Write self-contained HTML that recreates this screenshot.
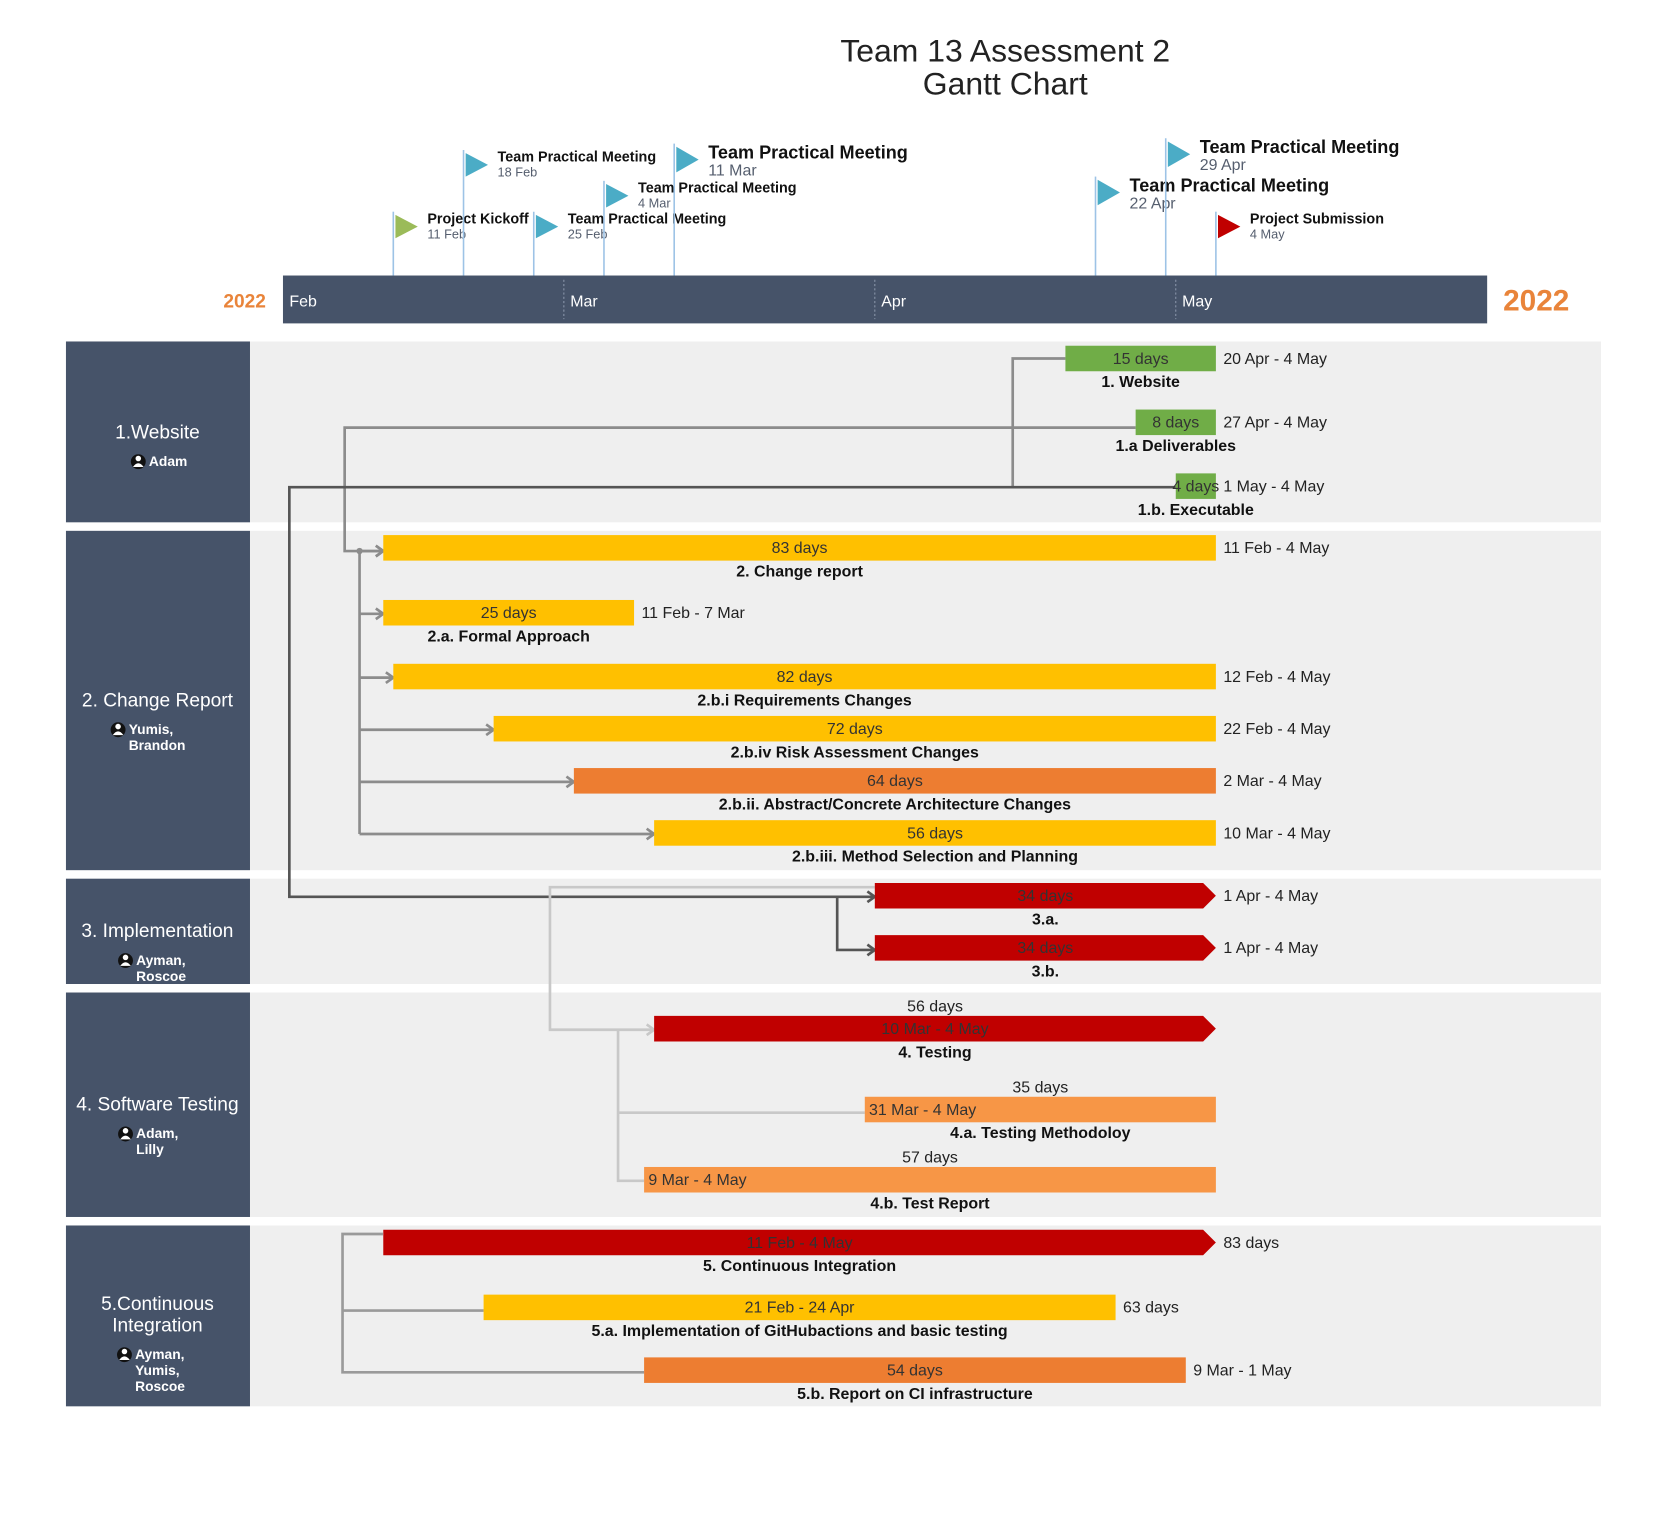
<!DOCTYPE html>
<html><head><meta charset="utf-8"><style>
html,body{margin:0;padding:0;background:#fff;width:1668px;height:1526px;overflow:hidden}
svg{display:block}
text{font-family:"Liberation Sans",sans-serif}
</style></head><body>
<svg id="chart" width="1668" height="1526" viewBox="0 0 1568 1434.5" preserveAspectRatio="none" xmlns="http://www.w3.org/2000/svg">
<text x="945" y="58" text-anchor="middle" font-size="30" fill="#222">Team 13 Assessment 2</text>
<text x="945" y="89" text-anchor="middle" font-size="30" fill="#222">Gantt Chart</text>
<g id="bands"></g>
<g id="axis"></g>
<g id="milestones"></g>
<g id="connectors" fill="none"></g>
<g id="tasks"></g>
</svg>
<script>
// ---- data ----
const months = ["Feb","Mar","Apr","May"];
const monthStarts = ["2022-02-01","2022-03-01","2022-04-01","2022-05-01"];
const yearLabel = "2022";
const sectionNames = ["1.Website","2. Change Report","3. Implementation","4. Software Testing","5.Continuous Integration"];
const sectionOwners = [["Adam"],["Yumis,","Brandon"],["Ayman,","Roscoe"],["Adam,","Lilly"],["Ayman,","Yumis,","Roscoe"]];
const milestoneNames = ["Project Kickoff","Team Practical Meeting","Team Practical Meeting","Team Practical Meeting","Team Practical Meeting","Team Practical Meeting","Team Practical Meeting","Project Submission"];
const milestoneDates = ["2022-02-11","2022-02-18","2022-02-25","2022-03-04","2022-03-11","2022-04-22","2022-04-29","2022-05-04"];
const milestoneDateLabels = ["11 Feb","18 Feb","25 Feb","4 Mar","11 Mar","22 Apr","29 Apr","4 May"];
const taskNames = ["1. Website","1.a Deliverables","1.b. Executable","2. Change report","2.a. Formal Approach","2.b.i Requirements Changes","2.b.iv Risk Assessment Changes","2.b.ii. Abstract/Concrete Architecture Changes","2.b.iii. Method Selection and Planning","3.a.","3.b.","4. Testing","4.a. Testing Methodoloy","4.b. Test Report","5. Continuous Integration","5.a. Implementation of GitHubactions and basic testing","5.b. Report on CI infrastructure"];
const taskStarts = ["2022-04-20","2022-04-27","2022-05-01","2022-02-11","2022-02-11","2022-02-12","2022-02-22","2022-03-02","2022-03-10","2022-04-01","2022-04-01","2022-03-10","2022-03-31","2022-03-09","2022-02-11","2022-02-21","2022-03-09"];
const taskEnds = ["2022-05-04","2022-05-04","2022-05-04","2022-05-04","2022-03-07","2022-05-04","2022-05-04","2022-05-04","2022-05-04","2022-05-04","2022-05-04","2022-05-04","2022-05-04","2022-05-04","2022-05-04","2022-04-24","2022-05-01"];
const taskDurations = ["15 days","8 days","4 days","83 days","25 days","82 days","72 days","64 days","56 days","34 days","34 days","56 days","35 days","57 days","83 days","63 days","54 days"];
const taskDateLabels = ["20 Apr - 4 May","27 Apr - 4 May","1 May - 4 May","11 Feb - 4 May","11 Feb - 7 Mar","12 Feb - 4 May","22 Feb - 4 May","2 Mar - 4 May","10 Mar - 4 May","1 Apr - 4 May","1 Apr - 4 May","10 Mar - 4 May","31 Mar - 4 May","9 Mar - 4 May","11 Feb - 4 May","21 Feb - 24 Apr","9 Mar - 1 May"];

// ---- layout/style (not data) ----
const NS="http://www.w3.org/2000/svg";
const X0=266, PXD=9.43;
const dayIdx=s=>{const p=s.split("-").map(Number);return (Date.UTC(p[0],p[1]-1,p[2])-Date.UTC(2022,1,1))/864e5;};
const xs=s=>X0+dayIdx(s)*PXD;
const xe=s=>X0+(dayIdx(s)+1)*PXD;
const sectionTop=[321,499,826,933,1152], sectionBot=[491,818,925,1144,1322];
const taskRowY=[337,397,457,515,576,636,685,734,783,842,891,967,1043,1109,1168,1229,1288];
const taskColor=["#70AD47","#70AD47","#70AD47","#FFC000","#FFC000","#FFC000","#FFC000","#ED7D31","#FFC000","#C00000","#C00000","#C00000","#F79646","#F79646","#C00000","#FFC000","#ED7D31"];
const taskLayout=["in","in","in","in","in","in","in","in","in","in","in","aboveC","aboveL","aboveL","ci","ci","in"];
const taskArrow=[0,0,0,0,0,0,0,0,0,1,1,1,0,0,1,0,0];
const msTop=[199,141,199,170,135,166,130,199];
const msBig=[0,0,0,0,1,1,1,0];
const msColor=["#9BBB59","#4BACC6","#4BACC6","#4BACC6","#4BACC6","#4BACC6","#4BACC6","#C00000"];

function el(tag,attrs,parent,txt){const e=document.createElementNS(NS,tag);for(const k in attrs)e.setAttribute(k,attrs[k]);if(txt!==undefined)e.textContent=txt;parent.appendChild(e);return e;}

// bands
const bands=document.getElementById("bands");
sectionNames.forEach((n,i)=>{
  const t=sectionTop[i],b=sectionBot[i];
  const g=el("g",{},bands);
  
  
  el("rect",{x:235,y:t,width:1270,height:b-t,fill:"#efefef"},g);
  el("rect",{x:62,y:t,width:173,height:b-t,fill:"#465369"},g);
  const lines=n==="5.Continuous Integration"?["5.Continuous","Integration"]:[n];
  const own=sectionOwners[i];
  const tot=lines.length*21+own.length*15+6;
  let y=(t+b)/2-tot/2+16+4+7*own.length;
  lines.forEach(l=>{const tx=el("text",{x:148,y:y,"text-anchor":"middle","font-size":18,fill:"#fff"},g,l);
    
    y+=20;});
  y+=6;
  const ix= own.length===1?130:(i===4?117:(i===1?111:118));
  el("circle",{cx:ix,cy:y-4,r:7,fill:"#111"},g);
  el("circle",{cx:ix,cy:y-7,r:2.6,fill:"#fff"},g);
  el("path",{d:`M${ix-5},${y+1} Q${ix},${y-6} ${ix+5},${y+1} Z`,fill:"#fff"},g);
  own.forEach((o,k)=>{const tx=el("text",{x:ix+10,y:y+k*15,"font-size":13,"font-weight":"bold",fill:"#fff"},g,o);
    
    });
});

// axis
const ax=document.getElementById("axis");
el("rect",{x:266,y:259,width:1132,height:45,fill:"#465369"},ax);
months.forEach((m,i)=>{
  const x=xs(monthStarts[i]);
  if(i>0) el("line",{x1:x,y1:263,x2:x,y2:300,stroke:"#8a96aa","stroke-dasharray":"2,2"},ax);
  const t=el("text",{x:x+6,y:288,"font-size":15,fill:"#fff"},ax,m);
  
  
});
const yl=el("text",{x:250,y:289,"text-anchor":"end","font-size":18,"font-weight":"bold",fill:"#E9843A"},ax,yearLabel);


const yr=el("text",{x:1413,y:292,"font-size":28,"font-weight":"bold",fill:"#E9843A"},ax,yearLabel);



// milestones
const ms=document.getElementById("milestones");
milestoneNames.forEach((n,i)=>{
  const x=xe(milestoneDates[i]), t=msTop[i], big=msBig[i];
  const g=el("g",{},ms);
  
  
  el("line",{x1:x,y1:t,x2:x,y2:259,stroke:"#9DC3E6","stroke-width":1.5},g);
  const fh=big?24:22;
  el("polygon",{points:`${x+2},${t+3} ${x+23},${t+3+fh/2} ${x+2},${t+3+fh}`,fill:msColor[i]},g);
  el("text",{x:x+32,y:t+(big?14:11),"font-size":big?17:13.5,"font-weight":"bold",fill:"#111"},g,n);
  el("text",{x:x+32,y:t+(big?30:25),"font-size":big?15:12,fill:"#555e6e"},g,milestoneDateLabels[i]);
});

// connectors (routing between linked tasks)
const cn=document.getElementById("connectors");
function pl(pts,col,w,arrow){const p=el("polyline",{points:pts.map(a=>a.join(",")).join(" "),stroke:col,"stroke-width":w,fill:"none"},cn);
  
  
  if(arrow){const [ex,ey]=pts[pts.length-1];el("polyline",{points:`${ex-7},${ey-5} ${ex},${ey} ${ex-7},${ey+5}`,stroke:col,"stroke-width":w,fill:"none"},cn);}}
const bx=i=>xs(taskStarts[i]), bxe=i=>xe(taskEnds[i]);
const Y=taskRowY;
pl([[bx(0),Y[0]],[952,Y[0]],[952,Y[2]]],"#8c8c8c",2.5);
pl([[bx(1),Y[1]+5],[324,Y[1]+5],[324,Y[3]+3],[bx(3),Y[3]+3]],"#8c8c8c",2.5,1);
pl([[bx(2),Y[2]+1],[272,Y[2]+1],[272,Y[9]+1],[bx(9),Y[9]+1]],"#555",2.5,1);
pl([[787,Y[9]+1],[787,Y[10]+2],[bx(10),Y[10]+2]],"#555",2.5,1);
[3,4,5,6,7,8].forEach(i=>{const yy=i===3?Y[3]+3:Y[i]+1;pl([[338,yy],[bx(i),yy]],"#8c8c8c",2.5,1);});
pl([[338,Y[3]+3],[338,Y[8]+1]],"#8c8c8c",2.5);
el("circle",{cx:338,cy:Y[3]+3,r:3,fill:"#8c8c8c"},cn);
pl([[bx(9),Y[9]-8],[517,Y[9]-8],[517,Y[11]+1],[bx(11),Y[11]+1]],"#c8c8c8",2.5,1);
pl([[581,Y[11]+1],[581,Y[13]+1],[bx(13),Y[13]+1]],"#c8c8c8",2.5);
pl([[581,Y[12]+3],[bx(12),Y[12]+3]],"#c8c8c8",2.5);
pl([[360,Y[14]-8],[322,Y[14]-8],[322,Y[16]+2],[bx(16),Y[16]+2]],"#9a9a9a",2.5);
pl([[322,Y[15]+3],[bx(15),Y[15]+3]],"#9a9a9a",2.5);

// tasks
const tk=document.getElementById("tasks");
taskNames.forEach((n,i)=>{
  const x1=bx(i), x2=bxe(i), y=taskRowY[i], h=24, cx=(x1+x2)/2;
  const g=el("g",{},tk);
  
  
  if(taskArrow[i]) el("polygon",{points:`${x1},${y-h/2} ${x2-12},${y-h/2} ${x2},${y} ${x2-12},${y+h/2} ${x1},${y+h/2}`,fill:taskColor[i]},g);
  else el("rect",{x:x1,y:y-h/2,width:x2-x1,height:h,fill:taskColor[i]},g);
  const L=taskLayout[i];
  if(L==="in"){
    el("text",{x:cx,y:y+5,"text-anchor":"middle","font-size":15,fill:"#333"},g,taskDurations[i]);
    el("text",{x:x2+7,y:y+5,"font-size":15,fill:"#222"},g,taskDateLabels[i]);
  }else if(L==="ci"){
    el("text",{x:cx,y:y+5,"text-anchor":"middle","font-size":15,fill:"#333"},g,taskDateLabels[i]);
    el("text",{x:x2+7,y:y+5,"font-size":15,fill:"#222"},g,taskDurations[i]);
  }else{
    el("text",{x:cx,y:y-16,"text-anchor":"middle","font-size":15,fill:"#222"},g,taskDurations[i]);
    if(L==="aboveC") el("text",{x:cx,y:y+5,"text-anchor":"middle","font-size":15,fill:"#333"},g,taskDateLabels[i]);
    else el("text",{x:x1+4,y:y+5,"font-size":15,fill:"#333"},g,taskDateLabels[i]);
  }
  el("text",{x:cx,y:y+27,"text-anchor":"middle","font-size":15,"font-weight":"bold",fill:"#111"},g,n);
});
</script>
</body></html>
